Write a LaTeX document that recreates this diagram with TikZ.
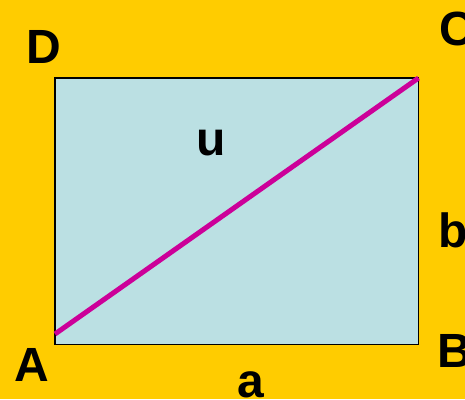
\documentclass[tikz,border=0pt]{standalone}
\usepackage{fontspec}
\setmainfont{Liberation Sans}
\definecolor{bgyellow}{RGB}{255,204,0}
\definecolor{rectblue}{RGB}{187,224,227}
\definecolor{diagmag}{RGB}{204,0,153}
\begin{document}
\begin{tikzpicture}[x=1pt,y=-1pt,
  lbl/.style={font=\fontsize{48}{48}\selectfont\bfseries, inner sep=0pt, anchor=base, text=black}]
\fill[bgyellow] (0,0) rectangle (465,399);
\useasboundingbox (0,0) rectangle (465,399);
\coordinate (pA) at (55,344.5);
\coordinate (pB) at (418.5,344.5);
\coordinate (pC) at (418.5,78);
\coordinate (pD) at (55,78);
\coordinate (dS) at (55,334);
\draw[fill=rectblue, draw=black, line width=1.2pt] (pA) rectangle (pC);
\draw[diagmag, line width=5pt] (dS) -- (pC);
\node[lbl] (A) at (32,381) {A};
\node[lbl] (B) at (455,367) {B};
\node[lbl] (C) at (457,45) {C};
\node[lbl] (D) at (43.5,63) {D};
\node[lbl] (b) at (453,247) {b};
\node[lbl] (u) at (211,155) {u};
\node[lbl] (a) at (250.5,397) {a};
\end{tikzpicture}
\end{document}
